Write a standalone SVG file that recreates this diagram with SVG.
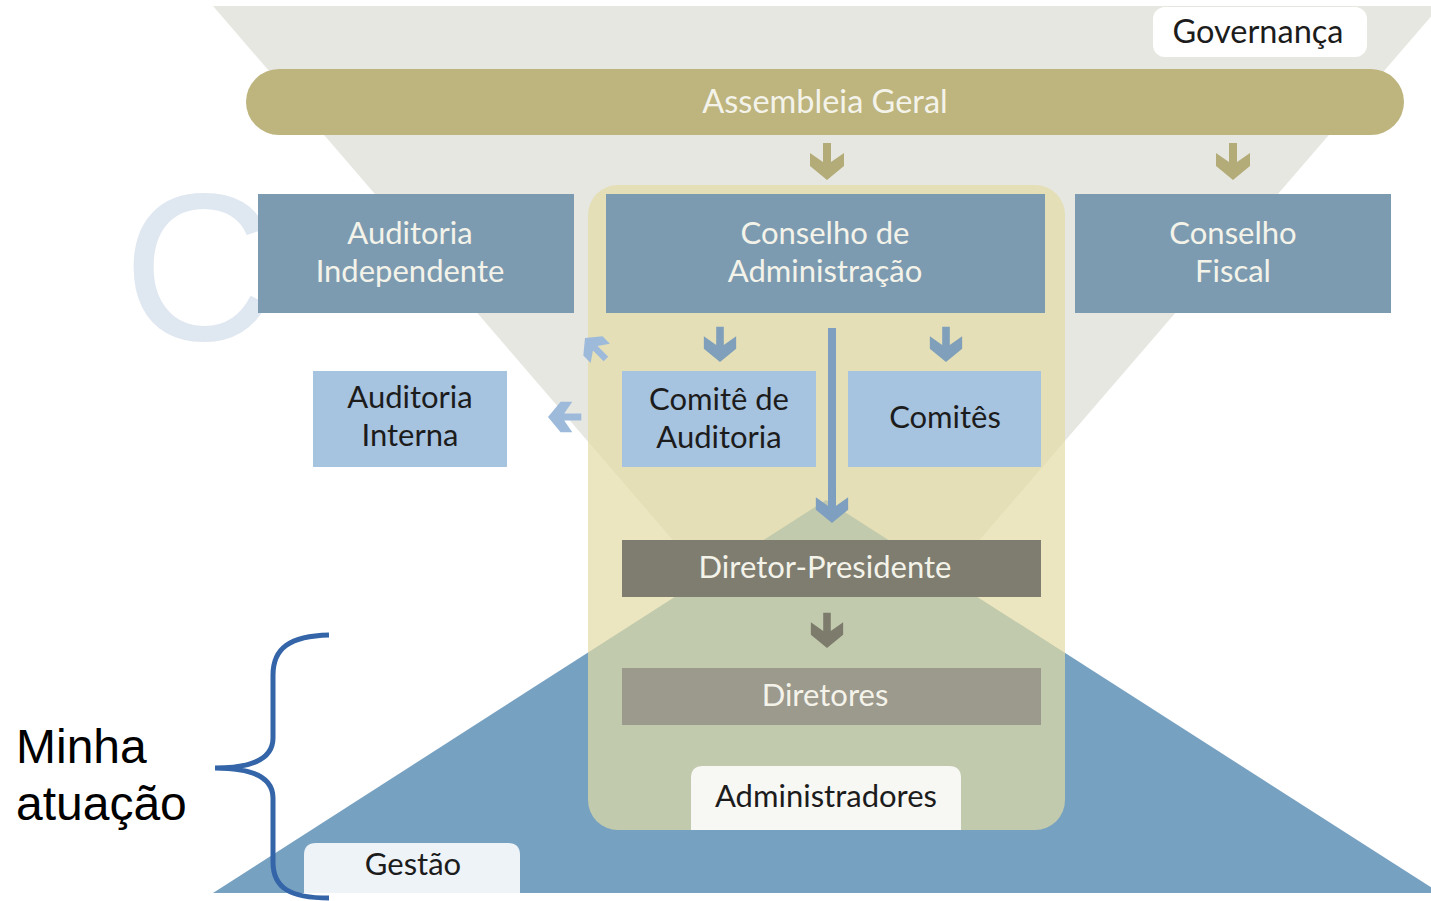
<svg xmlns="http://www.w3.org/2000/svg" width="1431" height="901" viewBox="0 0 1431 901">
  <style>
    .lbl { font-family: Lato, "Noto Sans", "DejaVu Sans", sans-serif; font-size: 31px; text-anchor: middle; }
    .big { font-size: 32.5px; }
    .w { fill: #f4f3ea; }
    .k { fill: #1c1c1c; }
    .steel { fill: #7d9bb0; }
    .light { fill: #a6c3e0; }
  </style>
  <defs>
    <path id="arr" d="M-4,-37 L4,-37 L4,-18 L17,-27 L17,-14 L0,0 L-17,-14 L-17,-27 L-4,-18 Z"/>
  </defs>
  <rect x="0" y="0" width="1431" height="901" fill="#ffffff"/>
  <g id="watermark" font-family="Liberation Sans, Arial, sans-serif" font-size="210" fill="#dfe7f1">
    <text x="123" y="340">C</text>
  </g>
  <g id="background">
    <polygon points="213,6 1440,6 826,718" fill="#e7e7e2"/>
    <polygon points="826,500 1440,893 213,893" fill="#77a1c1"/>
  </g>
  <g id="assembleia">
    <rect x="246" y="69" width="1158" height="66" rx="33" fill="#bdb47e"/>
    <text class="lbl big w" x="825" y="113">Assembleia Geral</text>
  </g>
  <g id="governanca">
    <rect x="1153" y="7" width="214" height="50" rx="12" fill="#ffffff"/>
    <text class="lbl big k" x="1258" y="43">Governança</text>
  </g>
  <g id="administradores-area">
    <rect x="588" y="185" width="477" height="645" rx="30" fill="#e2dca4" fill-opacity="0.7"/>
  </g>
  <g id="auditoria-independente">
    <rect x="258" y="194" width="316" height="119" class="steel"/>
    <text class="lbl w" x="410" y="244">Auditoria</text>
    <text class="lbl w" x="410" y="282">Independente</text>
  </g>
  <g id="conselho-administracao">
    <rect x="606" y="194" width="439" height="119" class="steel"/>
    <text class="lbl w" x="825" y="244">Conselho de</text>
    <text class="lbl w" x="825" y="282">Administração</text>
  </g>
  <g id="conselho-fiscal">
    <rect x="1075" y="194" width="316" height="119" class="steel"/>
    <text class="lbl w" x="1233" y="244">Conselho</text>
    <text class="lbl w" x="1233" y="282">Fiscal</text>
  </g>
  <g id="auditoria-interna">
    <rect x="313" y="371" width="194" height="96" class="light"/>
    <text class="lbl k" x="410" y="408">Auditoria</text>
    <text class="lbl k" x="410" y="446">Interna</text>
  </g>
  <g id="comite-auditoria">
    <rect x="622" y="371" width="194" height="96" class="light"/>
    <text class="lbl k" x="719" y="410">Comitê de</text>
    <text class="lbl k" x="719" y="448">Auditoria</text>
  </g>
  <g id="comites">
    <rect x="848" y="371" width="193" height="96" class="light"/>
    <text class="lbl k" x="945" y="428">Comitês</text>
  </g>
  <g id="diretor-presidente">
    <rect x="622" y="540" width="419" height="57" fill="#7e7d6f"/>
    <text class="lbl w" x="825" y="578">Diretor-Presidente</text>
  </g>
  <g id="diretores">
    <rect x="622" y="668" width="419" height="57" fill="#9c998d"/>
    <text class="lbl w" x="825" y="706">Diretores</text>
  </g>
  <g id="administradores">
    <path d="M691,830 L691,778 Q691,766 703,766 L949,766 Q961,766 961,778 L961,830 Z" fill="#f7f7f4"/>
    <text class="lbl k" x="826" y="807">Administradores</text>
  </g>
  <g id="gestao">
    <path d="M304,893 L304,855 Q304,843 316,843 L508,843 Q520,843 520,855 L520,893 Z" fill="#eef3f8"/>
    <text class="lbl k" x="413" y="875">Gestão</text>
  </g>
  <g id="connectors">
    <use href="#arr" transform="translate(827,180)" fill="#b4ac78"/>
    <use href="#arr" transform="translate(1233,180)" fill="#b4ac78"/>
    <use href="#arr" transform="translate(720,362) scale(0.95)" fill="#7f9fbb"/>
    <use href="#arr" transform="translate(946,362) scale(0.95)" fill="#7f9fbb"/>
    <rect x="828" y="328" width="8" height="180" fill="#7e9fbf"/>
    <use href="#arr" transform="translate(832,523) scale(0.95)" fill="#7e9fbf"/>
    <use href="#arr" transform="translate(827,648) scale(0.95)" fill="#7d7c6c"/>
    <use href="#arr" transform="translate(548,417) rotate(90) scale(0.9)" fill="#9dbadb"/>
    <use href="#arr" transform="translate(585,338) rotate(135) scale(0.8)" fill="#9dbadb"/>
  </g>
  <g id="brace">
    <path d="M329,635 C290,636 273,648 273,675 L273,738 C273,760 250,768 215,768 C250,768 273,776 273,798 L273,862 C273,888 290,898 329,898" fill="none" stroke="#3465a8" stroke-width="5"/>
  </g>
  <g id="minha-atuacao" font-family="Liberation Sans, Arial, sans-serif" font-size="48" fill="#000000">
    <text x="16" y="763">Minha</text>
    <text x="16" y="820">atuação</text>
  </g>
</svg>
